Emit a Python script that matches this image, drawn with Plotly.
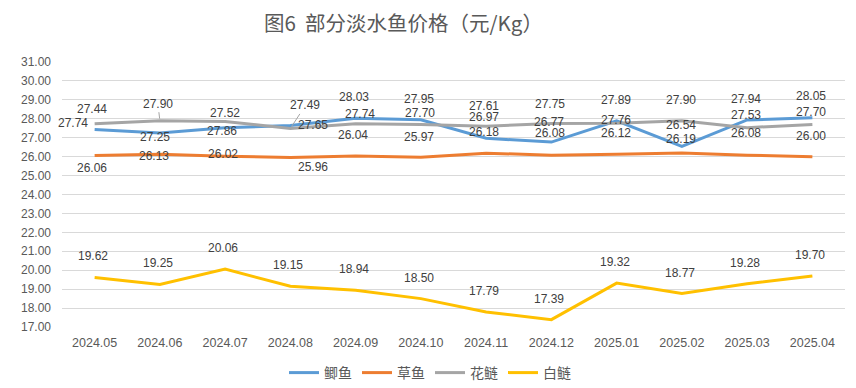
import plotly.graph_objects as go

months = ["2024.05", "2024.06", "2024.07", "2024.08", "2024.09", "2024.10",
          "2024.11", "2024.12", "2025.01", "2025.02", "2025.03", "2025.04"]
jiyu = [27.44, 27.25, 27.52, 27.65, 28.03, 27.95, 26.97, 26.77, 27.89, 26.54, 27.94, 28.05]
caoyu = [26.06, 26.13, 26.02, 25.96, 26.04, 25.97, 26.18, 26.08, 26.12, 26.19, 26.08, 26.00]
hualian = [27.74, 27.90, 27.86, 27.49, 27.74, 27.70, 27.61, 27.75, 27.76, 27.90, 27.53, 27.70]
bailian = [19.62, 19.25, 20.06, 19.15, 18.94, 18.50, 17.79, 17.39, 19.32, 18.77, 19.28, 19.70]
y_ticks = [17, 18, 19, 20, 21, 22, 23, 24, 25, 26, 27, 28, 29, 30, 31]

names = ["鲫鱼", "草鱼", "花鲢", "白鲢"]
colors = ["#5B9BD5", "#ED7D31", "#A5A5A5", "#FFC000"]
series = [jiyu, caoyu, hualian, bailian]

# label pixel offsets (dx, dy up); "arrow" entries use a leader line
off_jiyu = [(-3, 20), (-5, -4), (0, 15), (23, 0), (-2, 21), (-2, 21), (-2, 21), (-2, 20),
            (-1, 21), (-1, 21), (-1, 21), (-1, 22)]
off_caoyu = [(-3, -12), (-6, -2), (-2, 2), (23, -10), (-3, 21), (-2, 20), (-2, 21), (-1, 22),
             (-1, 21), (-1, 14), (-1, 22), (-1, 21)]
off_hualian = [(-22, 1), ("arrow", -2, 17), (-3, -10), ("arrow", 15, 23), (4, 10), (-1, 11),
               (-2, 20), (-1, 20), (-1, 3), (-1, 21), (-1, 13), (-1, 12)]
off_bailian = [(-2, 21)] * 12
offsets = [off_jiyu, off_caoyu, off_hualian, off_bailian]

# page has an 8px body margin; figure is sized to fit the 856x388 window
W, H = 848, 380
L, R, T, B = 54, 11, 54, 61
pw, ph = W - L - R, H - T - B

fig = go.Figure()
for name, col, vals in zip(names, colors, series):
    fig.add_trace(go.Scatter(x=list(range(len(months))), y=vals, mode="lines", name=name,
                             line=dict(color=col, width=3), hoverinfo="y"))

annotations = []
for vals, offs in zip(series, offsets):
    for i, (v, o) in enumerate(zip(vals, offs)):
        if o[0] == "arrow":
            annotations.append(dict(x=i, y=v, xref="x", yref="y", text=f"{v:.2f}",
                                    showarrow=True, arrowhead=0, arrowwidth=1,
                                    arrowcolor="#A5A5A5", ax=o[1], ay=-o[2], standoff=2,
                                    font=dict(size=12, color="#404040")))
        else:
            annotations.append(dict(x=i, y=v, xref="x", yref="y", text=f"{v:.2f}",
                                    showarrow=False, xshift=o[0], yshift=o[1],
                                    font=dict(size=12, color="#404040")))

annotations.append(dict(text="图6  部分淡水鱼价格（元/Kg）", xref="paper", yref="paper",
                        x=(403 - 8 - L) / pw, y=1 + (T - 14) / ph, xanchor="center",
                        yanchor="middle", showarrow=False, borderpad=0,
                        font=dict(size=20.5, color="#595959", family="Noto Sans CJK SC")))

fig.update_layout(
    width=W, height=H,
    margin=dict(l=L, r=R, t=T, b=B, autoexpand=False),
    paper_bgcolor="white", plot_bgcolor="white",
    font=dict(family="Liberation Sans, Noto Sans CJK SC", color="#595959", size=12),
    showlegend=True,
    legend=dict(orientation="h", x=(430 - 8 - L) / pw, xanchor="center",
                y=-(357 - 8 - (T + ph)) / ph, yanchor="top",
                font=dict(size=14, color="#595959"), itemwidth=30, tracegroupgap=0),
    annotations=annotations,
    hovermode="closest",
)
fig.update_xaxes(tickmode="array", tickvals=list(range(len(months))), ticktext=months,
                 range=[-0.5, 11.5], showgrid=False, showline=False,
                 ticks="", tickfont=dict(size=12.5, color="#595959"), ticklabelstandoff=6,
                 zeroline=False, fixedrange=True)
fig.update_yaxes(range=[17, 31], tickvals=y_ticks, tickformat=".2f", showgrid=True,
                 gridcolor="#D9D9D9", gridwidth=1, showline=False, zeroline=False, ticks="",
                 tickfont=dict(size=12, color="#595959"), ticklabelstandoff=10, fixedrange=True)

fig.write_html("out.html")
